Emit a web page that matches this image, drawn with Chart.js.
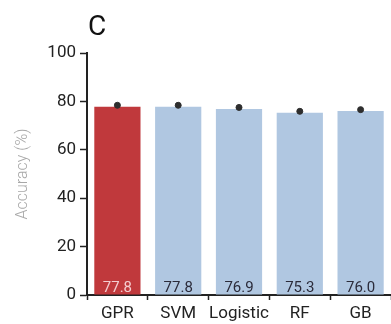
<!DOCTYPE html>
<html>
<head>
<meta charset="utf-8">
<script src="https://cdn.jsdelivr.net/npm/chart.js@4/dist/chart.umd.min.js"></script>
<style>
  html, body { margin: 0; padding: 0; background: #fff; overflow: hidden; }
  #wrap { width: 396px; height: 324px; }
</style>
</head>
<body>
<div id="wrap"><canvas id="accuracyChart" width="396" height="324"></canvas></div>
<script>
const models = ['GPR', 'SVM', 'Logistic', 'RF', 'GB'];
const accuracy = [77.8, 77.8, 76.9, 75.3, 76.0];
const errorTops = [78.4, 78.4, 77.5, 75.9, 76.6];
const yTicks = [0, 20, 40, 60, 80, 100];

const barColors = models.map((m, i) => i === 0 ? '#c0393c' : '#b0c7e1');
const labelColors = models.map((m, i) => i === 0 ? '#f4cdd0' : '#2b2b3a');

const valueLabels = {
    id: 'valueLabels',
    afterDatasetsDraw(chart) {
        const ctx = chart.ctx;
        const meta = chart.getDatasetMeta(1);
        const yBase = chart.scales.y.getPixelForValue(0);
        ctx.save();
        ctx.font = '15px Roboto';
        ctx.textAlign = 'center';
        ctx.textBaseline = 'alphabetic';
        meta.data.forEach((bar, i) => {
            ctx.fillStyle = labelColors[i];
            ctx.fillText(accuracy[i].toFixed(1), bar.x, yBase - 3);
        });
        // panel letter
        ctx.fillStyle = '#111';
        ctx.font = '28px Roboto';
        ctx.textAlign = 'left';
        ctx.textBaseline = 'middle';
        ctx.fillText('C', 88, 28);
        ctx.restore();
    }
};

new Chart(document.getElementById('accuracyChart').getContext('2d'), {
    data: {
        labels: models,
        datasets: [{
            type: 'scatter',
            data: errorTops.map((v, i) => ({x: models[i], y: v})),
            backgroundColor: '#2e2e2e',
            borderColor: '#2e2e2e',
            pointRadius: 3,
            order: 0
        }, {
            type: 'bar',
            data: accuracy,
            backgroundColor: barColors,
            borderWidth: 0,
            categoryPercentage: 0.76,
            barPercentage: 1,
            order: 1
        }]
    },
    options: {
        responsive: false,
        animation: false,
        layout: { padding: { top: 53, right: 0, left: 13, bottom: 0 } },
        plugins: {
            legend: { display: false },
            tooltip: { enabled: false }
        },
        scales: {
            x: {
                type: 'category',
                labels: models,
                offset: true,
                grid: { display: true, drawOnChartArea: false, tickLength: 5, tickColor: '#222', tickWidth: 1.5 },
                border: { color: '#222', width: 2 },
                ticks: { color: '#222', font: { family: 'Roboto', size: 17 }, padding: 4, maxRotation: 0, autoSkip: false },
                afterFit(scale) { scale.height = 29; }
            },
            y: {
                min: 0,
                max: 100,
                afterBuildTicks(scale) { scale.ticks = yTicks.map(v => ({value: v})); },
                grid: { display: true, drawOnChartArea: false, tickLength: 7, tickColor: '#222', tickWidth: 1.5 },
                border: { color: '#222', width: 2 },
                ticks: { color: '#222', font: { family: 'Roboto', size: 17 }, padding: 4 },
                title: { display: true, text: 'Accuracy (%)', color: '#a8a8a8', font: { family: 'Roboto', size: 16, weight: '300' }, padding: 0 },
                afterFit(scale) { scale.width = 74; }
            }
        }
    },
    plugins: [valueLabels]
});
</script>
</body>
</html>
